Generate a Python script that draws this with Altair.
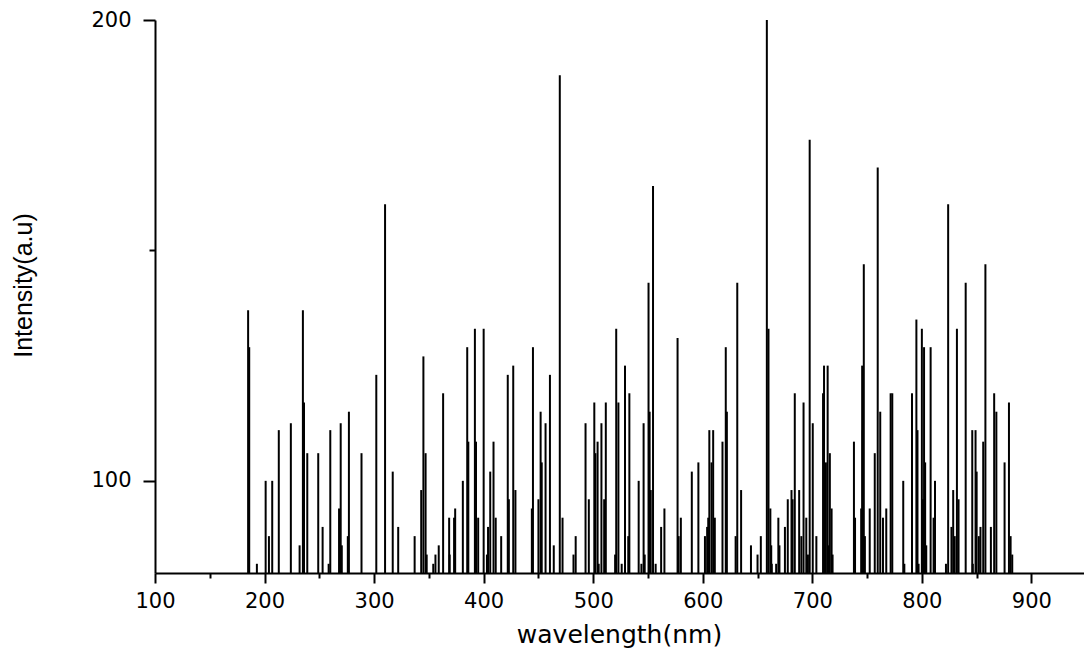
import altair as alt
import pandas as pd

wavelength = [
    185, 186, 193, 201, 204, 207, 213, 224, 232, 235, 236, 239, 249, 253, 258.5, 260,
    268, 269.5, 270.5, 276, 277, 288.5, 302, 310, 317, 322, 337, 343, 345, 347, 348,
    354, 356, 359, 363, 368.5, 369, 373, 374, 381, 385, 386, 392, 393, 395, 400, 403,
    404, 406, 409, 411, 416,
    422, 423, 427, 429, 444, 445, 450, 452, 453, 456.5, 460.5, 464, 469.5, 472, 482,
    484, 493, 496, 501, 502, 504, 505, 507.5, 510, 511.5, 520, 521, 523, 526, 529, 532,
    533, 541.5, 544, 546, 547, 550.5, 551.5, 552.5, 554.6, 557, 562, 565,
    577, 578, 580, 590, 596, 602, 604, 605, 606, 608, 609.5, 611, 618, 621, 622, 630,
    631.5, 635, 644, 650, 653, 658.5, 660, 661.7, 662.5, 663, 667, 669, 670, 675, 677.6,
    681, 682, 684, 688, 690, 692, 694.5, 696, 697.6, 700.4, 703.7, 709.8, 710.7,
    712.4, 714, 715, 716, 717.6, 718.5, 738, 739, 744.6, 745.5, 746, 747, 748, 752.4,
    757, 759.7, 762, 764.5, 767.5, 771.5, 773, 783, 784, 791, 795, 796, 797, 800, 801,
    802, 803, 804, 808, 810.7, 812, 822, 824, 827, 828.6, 830, 832, 833.5, 840, 846,
    846.5, 849, 850, 852, 853.5, 856, 858, 863, 866, 868, 875.5, 879.5, 881, 882.5,
]

intensity = [
    137, 129, 82, 100, 88, 100, 111, 112.5, 86, 137, 117, 106, 106, 90, 82, 111,
    94, 112.5, 86, 88, 115, 106, 123, 160, 102, 90, 88, 98, 127, 106, 84,
    82, 84, 86, 119, 92, 84, 92, 94, 100, 129, 108.5, 133, 108.5, 92, 133, 84,
    90, 102, 108.5, 92, 88,
    123, 96, 125, 98, 94, 129, 96, 115, 104, 112.5, 123, 86, 188, 92, 84,
    88, 112.5, 96, 117, 106, 108.5, 82, 112.5, 96, 117, 84, 133, 117, 82, 125, 88,
    119, 100, 82, 112.5, 84, 143, 115, 98, 164, 82, 90, 94,
    131, 88, 92, 102, 104, 88, 90, 92, 111, 104, 111, 92, 108.5, 129, 115, 88,
    143, 98, 86, 84, 88, 200, 133, 94, 86, 82, 82, 92, 86, 90, 96,
    98, 96, 119, 98, 88, 117, 92, 84, 174, 112.5, 88, 119, 125,
    104, 125, 86, 106, 94, 84, 108.5, 92, 94, 125, 111, 147, 88, 94,
    106, 168, 115, 92, 94, 119, 119, 100, 82, 119, 135, 111, 82, 133, 96,
    129, 104, 86, 129, 92, 100, 82, 160, 90, 98, 88, 133, 96, 143, 111,
    82, 111, 102, 88, 90, 108.5, 147, 90, 119, 115, 104, 117, 88, 84,
]

x_tick_values = [100, 150, 200, 250, 300, 350, 400, 450, 500, 550, 600, 650, 700, 750, 800, 850, 900]
y_tick_values = [100, 150, 200]

df = pd.DataFrame({"wavelength": wavelength, "intensity": intensity})

x_axis = alt.Axis(
    values=x_tick_values,
    labelExpr="datum.value % 100 === 0 ? datum.label : ''",
    tickSize={"condition": {"test": "datum.value % 100 === 0", "value": 10}, "value": 5},
    tickWidth=2,
    tickColor="black",
    domainWidth=2,
    domainColor="black",
    grid=False,
    labelFont="DejaVu Sans",
    labelFontSize=21,
    labelColor="black",
    labelPadding=7,
    labelFlush=False,
    labelOverlap=False,
    title="wavelength(nm)",
    titleFont="DejaVu Sans",
    titleFontSize=25,
    titleFontWeight="normal",
    titleColor="black",
    titleX=464,
    titleY=69,
    titleBaseline="alphabetic",
    titleAlign="center",
)

y_axis = alt.Axis(
    values=y_tick_values,
    labelExpr="datum.value === 150 ? '' : datum.label",
    tickSize={"condition": {"test": "datum.value === 150", "value": 6}, "value": 12},
    tickWidth=2,
    tickColor="black",
    domainWidth=2,
    domainColor="black",
    grid=False,
    labelFont="DejaVu Sans",
    labelFontSize=21,
    labelColor="black",
    labelPadding=12,
    labelFlush=False,
    labelOverlap=False,
    title="Intensity(a.u)",
    titleFont="Liberation Sans",
    titleFontSize=25,
    titleFontWeight="normal",
    titleColor="black",
    titleAngle=270,
    titleX=-124,
    titleY=265,
    titleBaseline="alphabetic",
    titleAlign="center",
)

chart = (
    alt.Chart(df)
    .mark_rule(color="black", strokeWidth=2)
    .encode(
        x=alt.X("wavelength:Q", scale=alt.Scale(domain=[100, 948], nice=False, zero=False), axis=x_axis),
        y=alt.Y("intensity:Q", scale=alt.Scale(domain=[80, 200], nice=False, zero=False), axis=y_axis),
        y2=alt.datum(80),
    )
    .properties(
        width=929,
        height=553,
        autosize=alt.AutoSizeParams(type="none"),
        padding={"left": 155, "top": 20, "right": 0, "bottom": 82},
        background="white",
    )
    .configure_view(strokeWidth=0)
)

chart.save("out.html", embed_options={"renderer": "svg", "actions": False})
